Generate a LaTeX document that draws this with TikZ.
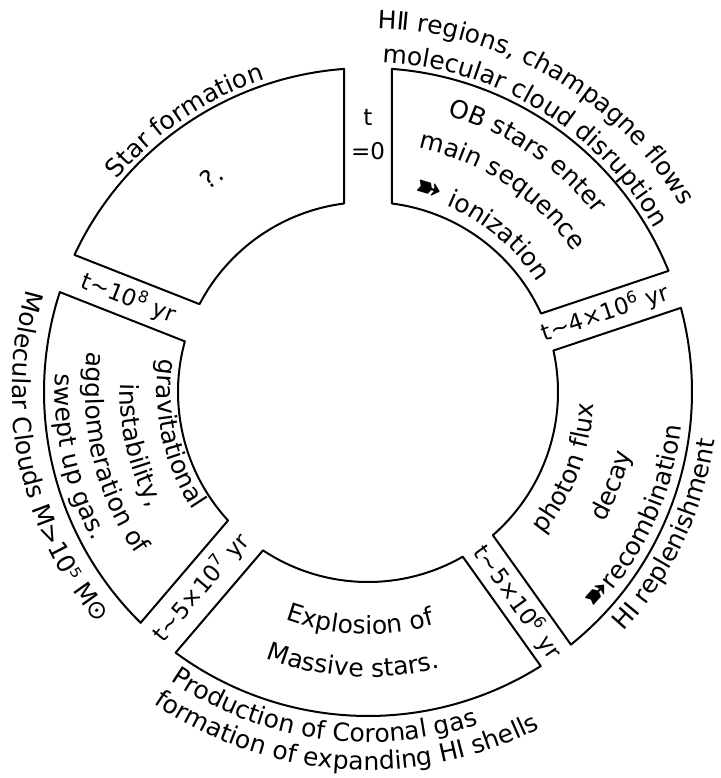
\documentclass[tikz,border=0pt]{standalone}
\usepackage{fontspec}
\setmainfont{DejaVu Sans}
\usetikzlibrary{decorations.text}
\tikzset{
  sector/.style={draw, line width=1pt, line join=round},
  arctext/.style={decorate, decoration={text along path, text align=center, text={#1}}},
  gaplabel/.style={inner sep=0pt, font=\fontsize{11.5}{17}\selectfont}
}
\newcommand{\bigarrow}{\fontsize{16}{16}\selectfont}
\newcommand{\usual}{\fontsize{12.5}{15}\selectfont}

\begin{document}
\begin{tikzpicture}[x=0.5pt, y=0.5pt]
  \usual
  \useasboundingbox (-368,-386) rectangle (353,392);
  % the five sectors, gaps given as angle/half width
  \foreach \a/\ha/\b/\hb in {18.5/19.5/90/24, 90/24/158.5/20, 158.5/20/229.5/23,
                             229.5/23/305.5/18.5, 305.5/18.5/378.5/19.5}
  {
    \pgfmathsetmacro\oa{\a+asin(\ha/324)}
    \pgfmathsetmacro\ob{\b-asin(\hb/324)}
    \pgfmathsetmacro\ia{\a+asin(\ha/190)}
    \pgfmathsetmacro\ib{\b-asin(\hb/190)}
    \draw[sector] (\oa:324) arc[start angle=\oa, end angle=\ob, radius=324]
      -- (\ib:190) arc[start angle=\ib, end angle=\ia, radius=190] -- cycle;
  }

  % texts read clockwise, tops outward
  \path[arctext={Star formation}] (174:329) arc[start angle=174, end angle=74, radius=329];
  \node[rotate=36] (query) at (126:266) {?.};
  \path[arctext={HⅡ regions, champagne flows}] (109.6:364) arc[start angle=109.6, end angle=9.6, radius=364];
  \path[arctext={molecular cloud disruption}] (108.6:330) arc[start angle=108.6, end angle=8.6, radius=330];
  \path[arctext={OB stars enter}] (106:288) arc[start angle=106, end angle=6, radius=288];
  \path[arctext={main sequence}] (106.3:249) arc[start angle=106.3, end angle=6.3, radius=249];
  \path[arctext={|\bigarrow|➽|\usual| ionization}] (105:202) arc[start angle=105, end angle=5, radius=202];

  % texts read counterclockwise, tops inward
  \path[arctext={photon flux}] (-71:226) arc[start angle=-71, end angle=29, radius=226];
  \path[arctext={decay}] (-71:270) arc[start angle=-71, end angle=29, radius=270];
  \path[arctext={|\bigarrow|➽|\usual|recombination}] (-75:315) arc[start angle=-75, end angle=25, radius=315];
  \path[arctext={HI replenishment}] (-75.5:350) arc[start angle=-75.5, end angle=24.5, radius=350];
  \path[arctext={Explosion of}] (-142:242) arc[start angle=-142, end angle=-42, radius=242];
  \path[arctext={Massive stars.}] (-143.2:285) arc[start angle=-143.2, end angle=-43.2, radius=285];
  \path[arctext={Production of Coronal gas}] (-148:350) arc[start angle=-148, end angle=-48, radius=350];
  \path[arctext={formation of expanding HI shells}] (-143.7:378) arc[start angle=-143.7, end angle=-43.7, radius=378];
  \path[arctext={gravitational}] (142.5:211) arc[start angle=142.5, end angle=242.5, radius=211];
  \path[arctext={instability,}] (143:248) arc[start angle=143, end angle=243, radius=248];
  \path[arctext={agglomeration of}] (143.5:283) arc[start angle=143.5, end angle=243.5, radius=283];
  \path[arctext={swept up gas.}] (142.6:313) arc[start angle=142.6, end angle=242.6, radius=313];
  \path[arctext={Molecular Clouds M>10⁵ M⊙}] (142:356) arc[start angle=142, end angle=242, radius=356];

  % times in the gaps
  \node[gaplabel, align=center] (t0) at (90:257) {t\\=0};
  \node[gaplabel, rotate=18.5] (t4e6) at (18.5:250) {t∼4×10\textsuperscript{6} yr};
  \node[gaplabel, rotate=-54.5] (t5e6) at (-54.5:258) {t∼5×10\textsuperscript{6} yr};
  \node[gaplabel, rotate=49.5] (t5e7) at (-130.5:257) {t∼5×10\textsuperscript{7} yr};
  \node[gaplabel, rotate=-21.5] (t1e8) at (158.5:257) {t∼10\textsuperscript{8} yr};
\end{tikzpicture}
\end{document}
